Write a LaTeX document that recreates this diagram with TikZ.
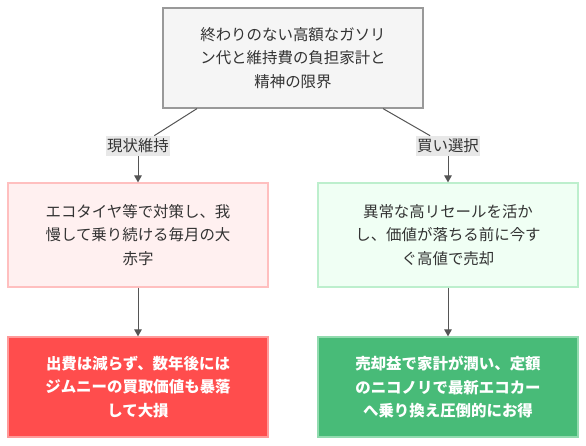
\documentclass[tikz,border=0pt]{standalone}
\usepackage{fontspec}
\setmainfont{Noto Sans CJK JP}
\usepackage{xcolor}
\usetikzlibrary{arrows.meta,positioning}
\definecolor{textgray}{HTML}{333333}
\definecolor{linegray}{HTML}{555555}
\definecolor{topfill}{HTML}{F5F5F5}
\definecolor{topline}{HTML}{999999}
\definecolor{lblgray}{HTML}{E8E8E8}
\definecolor{pinkfill}{HTML}{FFF0F0}
\definecolor{pinkline}{HTML}{FFBFBF}
\definecolor{mintfill}{HTML}{F0FFF4}
\definecolor{mintline}{HTML}{BDEFCD}
\definecolor{redfill}{HTML}{FF4D4D}
\definecolor{redline}{HTML}{FF9A9A}
\definecolor{greenfill}{HTML}{48BB78}
\definecolor{greenline}{HTML}{92DBAF}

\begin{document}
\begin{tikzpicture}[x=1bp, y=-1bp,
    box/.style={draw, line width=1.2bp, align=center, inner sep=0pt,
      font=\fontsize{15.5}{23.5}\selectfont, text=textgray,
      minimum width=260bp},
    hot/.style={box, text=white, font=\fontsize{15.5}{23.5}\selectfont\bfseries},
    lbl/.style={fill=lblgray, font=\fontsize{15.5}{18}\selectfont,
      text=textgray, inner xsep=1.5bp, inner ysep=3bp},
    ln/.style={line width=1bp, draw=linegray},
    fl/.style={ln, -{Triangle[length=7bp,width=7.5bp]}}
  ]
    \useasboundingbox (0,0) rectangle (586,446);

    \node[box, fill=topfill, draw=topline, minimum height=100bp] (burden)
      at (293,58) {終わりのない高額なガソリ\\ン代と維持費の負担家計と\\精神の限界};

    \node[lbl] (keep) at (138,146) {現状維持};
    \node[lbl] (buy)  at (448,146) {買い選択};

    \node[box, fill=pinkfill, draw=pinkline, minimum height=104bp] (endure)
      at (138,235) {エコタイヤ等で対策し、我\\慢して乗り続ける毎月の大\\赤字};
    \node[box, fill=mintfill, draw=mintline, minimum height=104bp] (sell)
      at (448,235) {異常な高リセールを活か\\し、価値が落ちる前に今す\\ぐ高値で売却};

    \node[hot, fill=redfill, draw=redline, minimum height=100bp] (loss)
      at (138,387) {出費は減らず、数年後には\\ジムニーの買取価値も暴落\\して大損};
    \node[hot, fill=greenfill, draw=greenline, minimum height=100bp] (gain)
      at (448,387) {売却益で家計が潤い、定額\\のニコノリで最新エコカー\\へ乗り換え圧倒的にお得};

    \draw[ln] ([xshift=-96bp]burden.south) -- (keep);
    \draw[ln] ([xshift=90bp]burden.south) -- (buy);
    \foreach \a/\b in {keep/endure, buy/sell, endure/loss, sell/gain} {
      \draw[fl] (\a) -- (\b);
    }
  \end{tikzpicture}
\end{document}
